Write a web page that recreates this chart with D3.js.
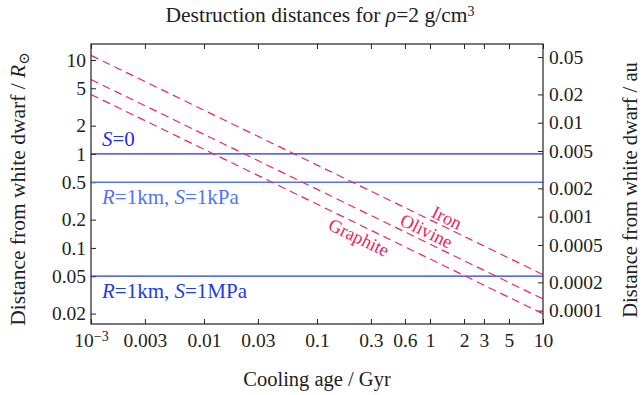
<!DOCTYPE html>
<html lang="en">
    <head>
        <meta charset="utf-8">
        <title>Destruction distances</title>
        <script src="https://d3js.org/d3.v7.min.js"></script>
        <style>
            body {
                margin: 0;
                background-color: #fff;
            }
            svg text {
                font-family: "Liberation Serif", "DejaVu Serif", serif;
                fill: #222;
            }
            .axis path {
                display: none;
            }
            .axis line {
                stroke: #222;
                stroke-width: 1;
            }
        </style>
    </head>
    <body>
        <svg id="chart"></svg>

        <script>
            //data
            const ages = [0.001, 10];
            const iron = [11.2, 0.052];
            const olivine = [6.2, 0.0286];
            const graphite = [4.3, 0.0199];

            const limitValues = [1, 0.5, 0.05];
            const limitColors = ["#1f2fe8", "#4f72ff", "#1d3af2"];

            const xTicks = [0.001, 0.003, 0.01, 0.03, 0.1, 0.3, 0.6, 1, 2, 3, 5, 10];
            const xTickLabels = ["10", "0.003", "0.01", "0.03", "0.1", "0.3", "0.6", "1", "2", "3", "5", "10"];
            const ySunTicks = [0.02, 0.05, 0.1, 0.2, 0.5, 1, 2, 5, 10];
            const ySunLabels = ["0.02", "0.05", "0.1", "0.2", "0.5", "1", "2", "5", "10"];
            const yAuTicks = [0.0001, 0.0002, 0.0005, 0.001, 0.002, 0.005, 0.01, 0.02, 0.05];
            const yAuLabels = ["0.0001", "0.0002", "0.0005", "0.001", "0.002", "0.005", "0.01", "0.02", "0.05"];

            const AU_PER_RSUN = 0.00465;
            const red = "#f2245e";

            //chart dimensions
            const W = 643, H = 395;
            const plotL = 91, plotR = 543, plotT = 44, plotB = 324;

            const svg = d3.select("#chart")
                .attr("width", W)
                .attr("height", H);

            //scales
            const x = d3.scaleLog().domain([1e-3, 10]).range([plotL, plotR]);
            const y = d3.scaleLog().domain([0.0155, 14.8]).range([plotB, plotT]);
            const yAu = d3.scaleLog()
                .domain(y.domain().map(d => d * AU_PER_RSUN))
                .range([plotB, plotT]);

            //axes, ticks pointing inward
            svg.append("g")
                .attr("class", "axis")
                .attr("transform", `translate(0, ${plotB})`)
                .call(d3.axisBottom(x).tickValues(xTicks).tickSize(-5).tickPadding(9)
                    .tickFormat((d, i) => xTickLabels[i]))
                .selectAll("text")
                .style("font-size", "19.5px")
                .attr("fill", "#222");

            svg.append("g")
                .attr("class", "axis")
                .attr("transform", `translate(0, ${plotT})`)
                .call(d3.axisTop(x).tickValues(xTicks).tickSize(-5).tickFormat(""));

            svg.append("g")
                .attr("class", "axis")
                .attr("transform", `translate(${plotL}, 0)`)
                .call(d3.axisLeft(y).tickValues(ySunTicks).tickSize(-5).tickPadding(5)
                    .tickFormat((d, i) => ySunLabels[i]))
                .selectAll("text")
                .style("font-size", "19.5px")
                .attr("fill", "#222");

            svg.append("g")
                .attr("class", "axis")
                .attr("transform", `translate(${plotR}, 0)`)
                .call(d3.axisRight(yAu).tickValues(yAuTicks).tickSize(-5).tickPadding(6)
                    .tickFormat((d, i) => yAuLabels[i]))
                .selectAll("text")
                .style("font-size", "19.5px")
                .attr("fill", "#222");

            //superscript on the first x label
            svg.selectAll(".axis text")
                .filter(function () { return this.textContent === "10" && +this.parentNode.__data__ === 0.001; })
                .append("tspan")
                .attr("dy", "-0.45em")
                .style("font-size", "14px")
                .text("−3");

            //limit lines
            svg.selectAll(".limit")
                .data(limitValues)
                .join("line")
                .attr("class", "limit")
                .attr("x1", plotL)
                .attr("x2", plotR)
                .attr("y1", d => y(d))
                .attr("y2", d => y(d))
                .attr("stroke", (d, i) => limitColors[i])
                .attr("stroke-width", 1.3);

            //limit labels
            const blueLabels = [
                { value: 1, parts: [["S", true], ["=0", false]], dy: -8 },
                { value: 0.5, parts: [["R", true], ["=1km, ", false], ["S", true], ["=1kPa", false]], dy: 22 },
                { value: 0.05, parts: [["R", true], ["=1km, ", false], ["S", true], ["=1MPa", false]], dy: 22 }
            ];
            blueLabels.forEach((b, i) => {
                const t = svg.append("text")
                    .attr("x", plotL + 11)
                    .attr("y", y(b.value) + b.dy)
                    .style("font-size", "21px")
                    .style("fill", limitColors[i]);
                b.parts.forEach(p => {
                    t.append("tspan")
                        .style("font-style", p[1] ? "italic" : "normal")
                        .text(p[0]);
                });
            });

            //destruction lines
            const series = [
                { name: "Iron", values: iron, at: 1.3, dy: -3 },
                { name: "Olivine", values: olivine, at: 0.85, dy: -4 },
                { name: "Graphite", values: graphite, at: 0.26, dy: 18 }
            ];

            const line = d3.line()
                .x(d => x(d[0]))
                .y(d => y(d[1]));

            svg.selectAll(".dest")
                .data(series)
                .join("path")
                .attr("class", "dest")
                .attr("d", s => line(ages.map((a, i) => [a, s.values[i]])))
                .attr("fill", "none")
                .attr("stroke", red)
                .attr("stroke-width", 1.2)
                .attr("stroke-dasharray", "8,5");

            //labels along the lines
            const angle = Math.atan2(y(iron[1]) - y(iron[0]), x(ages[1]) - x(ages[0])) * 180 / Math.PI;
            series.forEach(s => {
                const t = (Math.log10(s.at) - Math.log10(ages[0])) / (Math.log10(ages[1]) - Math.log10(ages[0]));
                const v = Math.pow(10, Math.log10(s.values[0]) + t * (Math.log10(s.values[1]) - Math.log10(s.values[0])));
                svg.append("text")
                    .attr("transform", `translate(${x(s.at)}, ${y(v)}) rotate(${angle})`)
                    .attr("text-anchor", "middle")
                    .attr("dy", s.dy)
                    .style("font-size", "18.5px")
                    .style("fill", red)
                    .text(s.name);
            });

            //frame
            svg.append("rect")
                .attr("x", plotL)
                .attr("y", plotT)
                .attr("width", plotR - plotL)
                .attr("height", plotB - plotT)
                .attr("fill", "none")
                .attr("stroke", "#222")
                .attr("stroke-width", 1.2);

            //titles
            const title = svg.append("text")
                .attr("x", 320)
                .attr("y", 22)
                .attr("text-anchor", "middle")
                .style("font-size", "21.5px");
            title.append("tspan").text("Destruction distances for ");
            title.append("tspan").style("font-style", "italic").text("ρ");
            title.append("tspan").text("=2 g/cm");
            title.append("tspan").attr("dy", "-0.45em").style("font-size", "14px").text("3");

            svg.append("text")
                .attr("x", (plotL + plotR) / 2)
                .attr("y", 386)
                .attr("text-anchor", "middle")
                .style("font-size", "20.5px")
                .text("Cooling age / Gyr");

            const yl = svg.append("text")
                .attr("transform", `translate(25, ${(plotT + plotB) / 2 + 5}) rotate(-90)`)
                .attr("text-anchor", "middle")
                .style("font-size", "21.5px");
            yl.append("tspan").text("Distance from white dwarf / ");
            yl.append("tspan").style("font-style", "italic").text("R");
            yl.append("tspan").attr("dy", 4).style("font-size", "15px").text("⊙");

            svg.append("text")
                .attr("transform", `translate(637, ${(plotT + plotB) / 2 + 6}) rotate(-90)`)
                .attr("text-anchor", "middle")
                .style("font-size", "20.5px")
                .text("Distance from white dwarf / au");
        </script>
    </body>
</html>
